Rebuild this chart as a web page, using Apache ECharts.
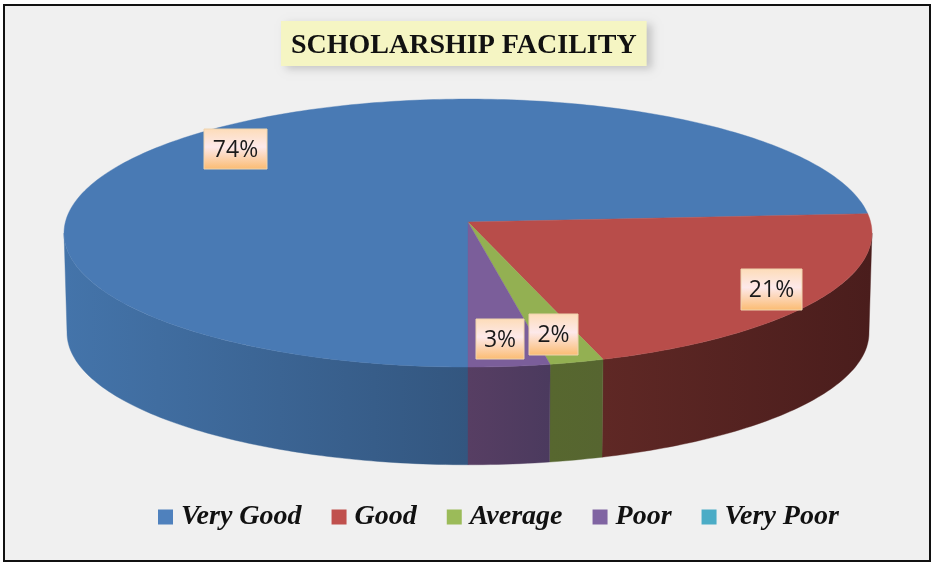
<!DOCTYPE html>
<html>
<head>
<meta charset="utf-8">
<style>
html, body { margin: 0; padding: 0; background: #fff; }
#chart { width: 932px; height: 563px; }
</style>
<script src="https://cdn.jsdelivr.net/npm/echarts@6/dist/echarts.min.js"></script>
</head>
<body>
<div id="chart"></div>
<script>
var categories = ['Very Good', 'Good', 'Average', 'Poor', 'Very Poor'];
var shares = [74, 21, 2, 3, 0];

var topColors = ['#497ab4', '#b84d4a', '#93b052', '#7b5e9a', '#4bacc6'];
var legendColors = ['#4f81bd', '#c0504d', '#9bbb59', '#8064a2', '#4bacc6'];
// wall gradient per slice: x from, x to, colour from, colour to
var wallStops = [
    [64, 468, '#4474aa', '#33567f'],
    [603, 872, '#5f2825', '#4a1d1c'],
    [550, 603, '#57672f', '#566530'],
    [468, 550, '#573e63', '#4b3a5e'],
    [0, 1, '#333', '#333']
];
// label boxes: x, y, w, h
var labelBoxes = [
    [204, 129, 63, 40],
    [741, 269, 61, 41],
    [529, 314, 49, 41],
    [476, 319, 48, 40]
];

// perspective of the disc
var cx = 468;
var k = 0.0825;
var topFace = { sx: 402.6, sy: 133.1, cy: 222 };
var baseFace = { sx: 399.6, sy: 131, cy: 322 };
var firstAngle = 180;
// where the wall silhouette starts and stops
var wallFrom = Math.acos(-k) * 180 / Math.PI;
var wallTo = 360 - wallFrom;

function project(face, deg) {
    var a = deg * Math.PI / 180;
    var u = Math.sin(a);
    var v = Math.cos(a);
    var d = 1 + k * v;
    return [cx + face.sx * u / d, face.cy - face.sy * v / d];
}

function arc(face, from, to) {
    var pts = [];
    var n = Math.max(2, Math.ceil(Math.abs(to - from)));
    for (var i = 0; i <= n; i++) {
        pts.push(project(face, from + (to - from) * i / n));
    }
    return pts;
}

// visible part of a slice wall, the angles may run past 360
function wallRanges(from, to) {
    var out = [];
    [0, 360].forEach(function (off) {
        var a = Math.max(from, wallFrom + off);
        var b = Math.min(to, wallTo + off);
        if (b > a) {
            out.push([a, b]);
        }
    });
    return out;
}

var total = shares.reduce(function (s, x) { return s + x; }, 0);
var running = firstAngle;
var series = categories.map(function (name, i) {
    var from = running;
    var to = from + shares[i] / total * 360;
    running = to;
    return {
        type: 'custom',
        name: name,
        coordinateSystem: 'none',
        silent: true,
        animation: false,
        itemStyle: { color: legendColors[i] },
        data: [[shares[i]]],
        renderItem: function () {
            if (!shares[i]) {
                return { type: 'group', children: [] };
            }
            var children = [];
            wallRanges(from, to).forEach(function (r) {
                var pts = arc(topFace, r[0], r[1]).concat(arc(baseFace, r[1], r[0]));
                var w = wallStops[i];
                var fill = new echarts.graphic.LinearGradient(w[0], 0, w[1], 0, [
                    { offset: 0, color: w[2] },
                    { offset: 1, color: w[3] }
                ], true);
                children.push({
                    type: 'polygon',
                    shape: { points: pts },
                    style: { fill: fill, stroke: fill, lineWidth: 0.4 },
                    z2: 1
                });
            });
            children.push({
                type: 'polygon',
                shape: { points: [[cx, topFace.cy]].concat(arc(topFace, from, to)) },
                style: { fill: topColors[i], stroke: topColors[i], lineWidth: 0.4 },
                z2: 2
            });
            var box = labelBoxes[i];
            children.push({
                type: 'rect',
                shape: { x: box[0], y: box[1], width: box[2], height: box[3] },
                style: {
                    fill: new echarts.graphic.LinearGradient(0, 0, 0, 1, [
                        { offset: 0, color: '#fddcb8' },
                        { offset: 0.45, color: '#fde9ea' },
                        { offset: 1, color: '#fbbb70' }
                    ]),
                    stroke: '#efd4ae',
                    lineWidth: 1
                },
                z2: 5
            });
            children.push({
                type: 'text',
                style: {
                    text: shares[i] + '%',
                    x: box[0] + box[2] / 2,
                    y: box[1] + box[3] / 2 + 1,
                    align: 'center',
                    verticalAlign: 'middle',
                    fill: '#1a1a1a',
                    font: '23px "Open Sans"'
                },
                z2: 6
            });
            return { type: 'group', children: children };
        }
    };
});

var chart = echarts.init(document.getElementById('chart'));
chart.setOption({
    animation: false,
    backgroundColor: '#fff',
    graphic: [{
        type: 'rect',
        z: -10,
        shape: { x: 4, y: 5, width: 926, height: 556 },
        style: { fill: '#f0f0f0', stroke: '#111', lineWidth: 2 }
    }],
    title: {
        text: 'SCHOLARSHIP FACILITY',
        left: 281,
        top: 21,
        padding: [11, 10, 6, 10],
        backgroundColor: '#f5f5c3',
        shadowColor: 'rgba(0,0,0,0.18)',
        shadowBlur: 8,
        shadowOffsetX: 5,
        shadowOffsetY: 3,
        textStyle: {
            fontFamily: 'Liberation Serif',
            fontWeight: 'bold',
            fontSize: 28,
            color: '#111'
        }
    },
    legend: {
        left: 158,
        top: 503,
        padding: 0,
        icon: 'rect',
        itemWidth: 15,
        itemHeight: 15,
        itemGap: 30,
        selectedMode: false,
        data: categories,
        textStyle: {
            fontFamily: 'Liberation Serif',
            fontStyle: 'italic',
            fontWeight: 'bold',
            fontSize: 28,
            color: '#111',
            padding: [0, 0, 0, 3]
        }
    },
    series: series
});
</script>
</body>
</html>
